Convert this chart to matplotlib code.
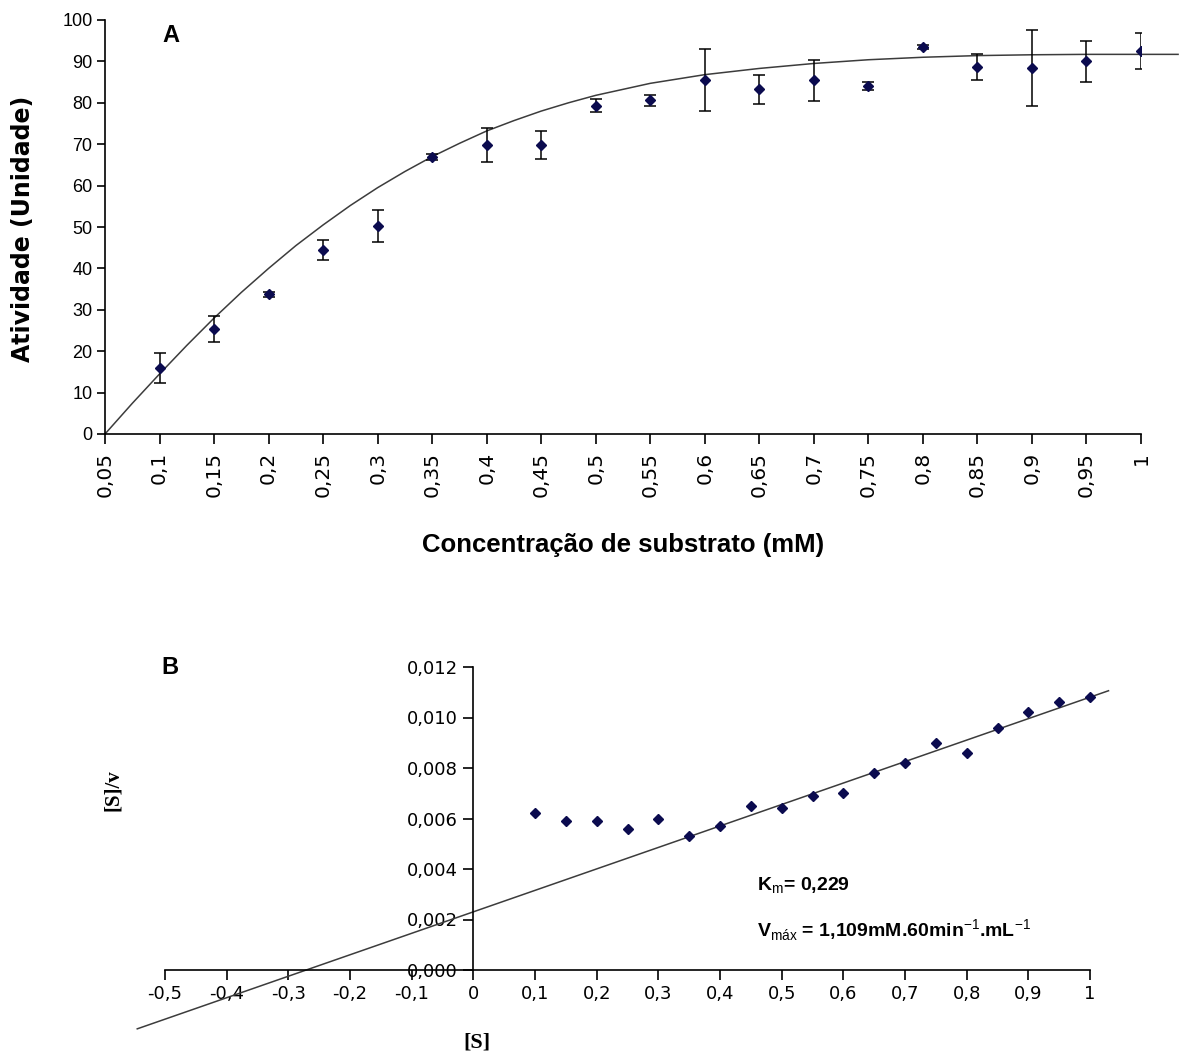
import matplotlib
matplotlib.use('Agg')
import matplotlib.pyplot as plt

plt.rcParams['mathtext.fontset'] = 'custom'
plt.rcParams['mathtext.rm'] = 'Liberation Sans'
plt.rcParams['mathtext.bf'] = 'Liberation Sans:bold'

# ---------------- Panel A data ----------------
conc = [0.10, 0.15, 0.20, 0.25, 0.30, 0.35, 0.40, 0.45, 0.50, 0.55,
        0.60, 0.65, 0.70, 0.75, 0.80, 0.85, 0.90, 0.95, 1.00]
activity = [15.9, 25.3, 33.7, 44.4, 50.2, 67.0, 69.7, 69.8, 79.3, 80.6,
            85.5, 83.3, 85.4, 84.1, 93.5, 88.6, 88.5, 90.0, 92.5]
activity_err = [3.7, 3.1, 0.5, 2.4, 3.9, 0.7, 4.1, 3.4, 1.6, 1.4,
                7.5, 3.5, 5.0, 0.9, 0.4, 3.2, 9.2, 5.0, 4.4]
# fitted curve
fit_x = [0.05, 0.075, 0.10, 0.125, 0.15, 0.175, 0.20, 0.225, 0.25, 0.275,
         0.30, 0.325, 0.35, 0.375, 0.40, 0.425, 0.45, 0.475, 0.50, 0.55,
         0.60, 0.65, 0.70, 0.75, 0.80, 0.85, 0.90, 0.95, 1.00, 1.034]
fit_y = [0.0, 7.4, 14.5, 21.4, 28.0, 34.2, 40.0, 45.5, 50.5, 55.2,
         59.5, 63.4, 67.0, 70.2, 73.2, 75.7, 78.0, 80.0, 81.8, 84.7,
         86.8, 88.3, 89.5, 90.4, 91.0, 91.4, 91.6, 91.7, 91.7, 91.7]
a_xticks = [0.05, 0.10, 0.15, 0.20, 0.25, 0.30, 0.35, 0.40, 0.45, 0.50,
            0.55, 0.60, 0.65, 0.70, 0.75, 0.80, 0.85, 0.90, 0.95, 1.00]
a_xticklabels = ['0,05', '0,1', '0,15', '0,2', '0,25', '0,3', '0,35', '0,4',
                 '0,45', '0,5', '0,55', '0,6', '0,65', '0,7', '0,75', '0,8',
                 '0,85', '0,9', '0,95', '1']
a_yticks = [0, 10, 20, 30, 40, 50, 60, 70, 80, 90, 100]

# ---------------- Panel B data ----------------
s_vals = conc
s_over_v = [0.0062, 0.0059, 0.0059, 0.0056, 0.0060, 0.0053, 0.0057, 0.0065,
            0.0064, 0.0069, 0.0070, 0.0078, 0.0082, 0.0090, 0.0086, 0.0096,
            0.0102, 0.0106, 0.0108]
line_x = [-0.545, 1.03]
line_y = [-0.00233, 0.01106]
b_xticks = [-0.5, -0.4, -0.3, -0.2, -0.1, 0.0, 0.1, 0.2, 0.3, 0.4, 0.5,
            0.6, 0.7, 0.8, 0.9, 1.0]
b_xticklabels = ['-0,5', '-0,4', '-0,3', '-0,2', '-0,1', '0', '0,1', '0,2',
                 '0,3', '0,4', '0,5', '0,6', '0,7', '0,8', '0,9', '1']
b_yticks = [0.0, 0.002, 0.004, 0.006, 0.008, 0.010, 0.012]
b_yticklabels = ['0,000', '0,002', '0,004', '0,006', '0,008', '0,010', '0,012']

W, H = 1182, 1061
NAVY = '#0b0b4f'
fig = plt.figure(figsize=(W / 100, H / 100), dpi=100)
fig.patch.set_facecolor('white')


def ax_rect(l, t, r, b):
    return [l / W, 1 - b / H, (r - l) / W, (b - t) / H]


# ---------------- Panel A ----------------
axA = fig.add_axes(ax_rect(105, 20, 1141, 434))
axA.plot(fit_x, fit_y, color='#3c3c3c', lw=1.1, clip_on=False, zorder=2)
axA.errorbar(conc, activity, yerr=activity_err, fmt='D', color=NAVY, ms=5,
             ecolor='black', elinewidth=1.1, capsize=4.5, capthick=1.1,
             zorder=3)
axA.set_xlim(0.05, 1.0)
axA.set_ylim(0, 100)
axA.set_xticks(a_xticks)
axA.set_xticklabels(a_xticklabels, rotation=90, fontfamily='DejaVu Sans',
                    fontsize=14.5)
axA.set_yticks(a_yticks)
axA.set_yticklabels([str(v) for v in a_yticks], fontfamily='Liberation Sans',
                    fontsize=13)
for s in ['top', 'right']:
    axA.spines[s].set_visible(False)
for s in ['left', 'bottom']:
    axA.spines[s].set_linewidth(1.2)
axA.tick_params(axis='x', direction='out', length=7, width=1.2, pad=6)
axA.tick_params(axis='y', direction='out', length=6, width=1.2, pad=3)

fig.text(171 / W, 1 - 35 / H, 'A', ha='center', va='center', fontsize=17,
         fontweight='bold', family='Liberation Sans')
fig.text(23 / W, 1 - 229 / H, 'Atividade (Unidade)', rotation=90,
         ha='center', va='center', fontsize=17, fontweight='bold',
         family='DejaVu Sans')
fig.text(623 / W, 1 - 545 / H, 'Concentração de substrato (mM)',
         ha='center', va='center', fontsize=18.5, fontweight='bold',
         family='Liberation Sans')

# ---------------- Panel B ----------------
axB = fig.add_axes(ax_rect(165, 667, 1090, 970))
axB.plot(line_x, line_y, color='#3c3c3c', lw=1.1, clip_on=False, zorder=2)
axB.plot(s_vals, s_over_v, 'D', color=NAVY, ms=4.8, zorder=3, clip_on=False)
axB.set_xlim(-0.5, 1.0)
axB.set_ylim(0, 0.012)
axB.spines['left'].set_position(('data', 0))
axB.spines['bottom'].set_position(('data', 0))
for s in ['top', 'right']:
    axB.spines[s].set_visible(False)
for s in ['left', 'bottom']:
    axB.spines[s].set_linewidth(1.2)
axB.set_xticks(b_xticks)
axB.set_xticklabels(b_xticklabels, fontfamily='DejaVu Sans', fontsize=13)
axB.set_yticks(b_yticks)
axB.set_yticklabels(b_yticklabels, fontfamily='DejaVu Sans', fontsize=13)
axB.tick_params(axis='both', direction='out', length=7, width=1.2, pad=4)

fig.text(170 / W, 1 - 668 / H, 'B', ha='center', va='center', fontsize=17,
         fontweight='bold', family='Liberation Sans')
fig.text(113 / W, 1 - 790 / H, '[S]/v', rotation=90, ha='center',
         va='center', fontsize=15, fontweight='bold', family='Liberation Serif')
fig.text(477 / W, 1 - 1043 / H, '[S]', ha='center', va='center',
         fontsize=16, fontweight='bold', family='Liberation Serif')
fig.text(757 / W, 1 - 886 / H, r'K$_\mathrm{m}$= 0,229', ha='left',
         va='center', fontsize=14, fontweight='bold', family='Liberation Sans')
fig.text(757 / W, 1 - 930 / H,
         r'V$_\mathrm{máx}$ = 1,109mM.60min$^\mathrm{-1}$.mL$^\mathrm{-1}$',
         ha='left', va='center', fontsize=14, fontweight='bold',
         family='Liberation Sans')

fig.savefig('out.png', dpi=100, facecolor='white')
